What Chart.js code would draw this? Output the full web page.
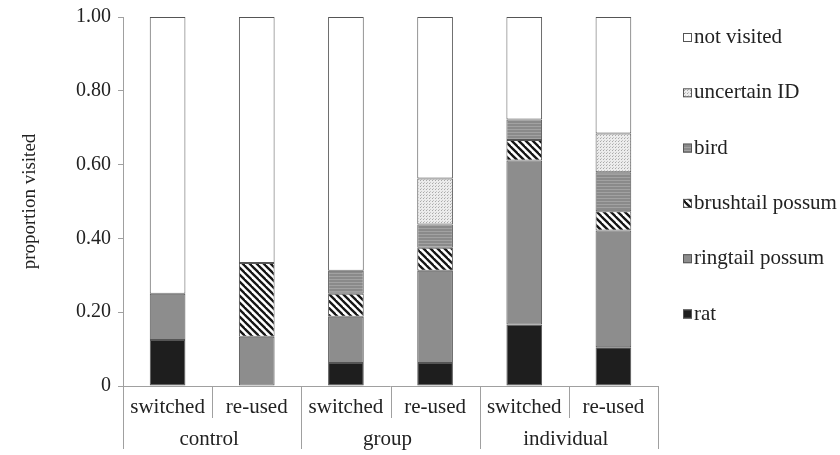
<!DOCTYPE html>
<html>
<head>
<meta charset="utf-8">
<script src="https://cdn.jsdelivr.net/npm/chart.js@4.4.1/dist/chart.umd.min.js"></script>
<style>
html,body{margin:0;padding:0;background:#fff;}
#wrap{width:840px;height:455px;}
</style>
</head>
<body>
<div id="wrap"><canvas id="c" width="840" height="455"></canvas></div>
<script>
// ---- data ----
const categories = ['switched', 're-used', 'switched', 're-used', 'switched', 're-used'];
const groups = ['control', 'group', 'individual'];
const rat        = [0.125, 0,      0.0625, 0.0625, 0.1667, 0.1053];
const ringtail   = [0.125, 0.1333, 0.125,  0.25,   0.4444, 0.3158];
const brushtail  = [0,     0.2,    0.0625, 0.0625, 0.0556, 0.0526];
const bird       = [0,     0,      0.0625, 0.0625, 0.0556, 0.1053];
const uncertain  = [0,     0,      0,      0.125,  0,      0.1053];
const notVisited = [0.75,  0.6667, 0.6875, 0.4375, 0.2778, 0.3158];
const yTicks = [0, 0.2, 0.4, 0.6, 0.8, 1.0];

const SERIF = "'Liberation Serif','Times New Roman',serif";
const TXT = '#222';
const AXIS = '#a0a0a0';
const EDGE = '#555555';

// ---- patterns ----
function tile(w, h, fn) {
  const c = document.createElement('canvas');
  c.width = w; c.height = h;
  const g = c.getContext('2d');
  fn(g, w, h);
  return g.createPattern(c, 'repeat');
}
const stripePat = tile(7, 7, (g, w, h) => {
  g.fillStyle = '#fff'; g.fillRect(0, 0, w, h);
  g.strokeStyle = '#151515'; g.lineWidth = 2.3;
  for (const k of [-7, 0, 7]) {
    g.beginPath(); g.moveTo(-2, -2 + k); g.lineTo(9, 9 + k); g.stroke();
  }
});
const birdPat = tile(4, 3, (g, w, h) => {
  g.fillStyle = '#8a8a8a'; g.fillRect(0, 0, w, h);
  g.fillStyle = '#a2a2a2'; g.fillRect(0, 0, w, 1);
});
const dotPat = tile(3, 3, (g, w, h) => {
  g.fillStyle = '#ececec'; g.fillRect(0, 0, w, h);
  g.fillStyle = '#a8a8a8'; g.fillRect(0, 0, 1, 1);
  g.fillStyle = '#c4c4c4'; g.fillRect(1, 2, 1, 1);
});

function ds(label, data, bg) {
  return {
    label, data, backgroundColor: bg,
    borderColor: EDGE,
    borderWidth: (ctx) => (ctx.raw ? 1 : 0),
    borderSkipped: false,
    barPercentage: 0.4,
    categoryPercentage: 1.0
  };
}

// ---- multi-level x labels + separators ----
const xAxisPlugin = {
  id: 'xAxisPlugin',
  afterDraw(chart) {
    const ctx = chart.ctx;
    const xs = chart.scales.x;
    const area = chart.chartArea;
    const y0 = area.bottom;
    const n = categories.length;
    const px = i => xs.getPixelForValue(i);
    const bound = i => (i === 0 ? area.left : i === n ? area.right : (px(i - 1) + px(i)) / 2);
    ctx.save();
    ctx.strokeStyle = AXIS; ctx.lineWidth = 1;
    ctx.beginPath(); ctx.moveTo(area.left, y0 + 0.5); ctx.lineTo(area.right, y0 + 0.5); ctx.stroke();
    for (let i = 0; i <= n; i++) {
      const x = Math.round(bound(i)) + 0.5;
      const isGroup = i % 2 === 0;
      ctx.beginPath(); ctx.moveTo(x, y0); ctx.lineTo(x, y0 + (isGroup ? 63 : 32)); ctx.stroke();
    }
    ctx.fillStyle = TXT;
    ctx.font = '21px ' + SERIF;
    ctx.textAlign = 'center'; ctx.textBaseline = 'alphabetic';
    categories.forEach((c, i) => ctx.fillText(c, px(i), y0 + 27));
    groups.forEach((g, j) => ctx.fillText(g, (bound(2 * j) + bound(2 * j + 2)) / 2 - 3, y0 + 59));
    ctx.restore();
  }
};

// ---- legend ----
const legendPlugin = {
  id: 'sideLegend',
  afterDraw(chart) {
    const ctx = chart.ctx;
    const items = chart.data.datasets.slice().reverse();
    ctx.save();
    ctx.font = '21px ' + SERIF;
    ctx.textAlign = 'left'; ctx.textBaseline = 'alphabetic';
    items.forEach((d, i) => {
      const yb = 42 + i * 55.3;
      ctx.fillStyle = d.backgroundColor;
      ctx.fillRect(683, yb - 9, 9, 9);
      ctx.strokeStyle = EDGE; ctx.lineWidth = 1;
      ctx.strokeRect(683.5, yb - 8.5, 8, 8);
      ctx.fillStyle = TXT;
      ctx.fillText(d.label, 694, yb + 1);
    });
    ctx.restore();
  }
};

new Chart(document.getElementById('c'), {
  type: 'bar',
  data: {
    labels: categories,
    datasets: [
      ds('rat', rat, '#1e1e1e'),
      ds('ringtail possum', ringtail, '#8d8d8d'),
      ds('brushtail possum', brushtail, stripePat),
      ds('bird', bird, birdPat),
      ds('uncertain ID', uncertain, dotPat),
      ds('not visited', notVisited, '#ffffff')
    ]
  },
  options: {
    responsive: false,
    animation: false,
    layout: { padding: { top: 17, right: 182, left: 0, bottom: 0 } },
    plugins: { legend: { display: false }, tooltip: { enabled: false } },
    scales: {
      x: {
        stacked: true,
        ticks: { display: false },
        grid: { display: false },
        border: { display: false },
        afterFit: s => { s.height = 69; }
      },
      y: {
        stacked: true,
        min: 0, max: 1,
        afterBuildTicks: s => { s.ticks = yTicks.map(v => ({ value: v })); },
        ticks: {
          color: TXT,
          font: { family: SERIF, size: 20 },
          padding: 7,
          callback: v => (v === 0 ? '0' : Number(v).toFixed(2))
        },
        grid: { drawOnChartArea: false, drawTicks: true, tickLength: 5, color: AXIS },
        border: { display: true, color: AXIS },
        title: {
          display: true, text: 'proportion visited', color: TXT,
          font: { family: SERIF, size: 19 },
          padding: { top: 19, bottom: 0 }
        },
        afterFit: s => { s.width = 123; s.paddingTop = 0; s.paddingBottom = 0; }
      }
    }
  },
  plugins: [xAxisPlugin, legendPlugin]
});
</script>
</body>
</html>
